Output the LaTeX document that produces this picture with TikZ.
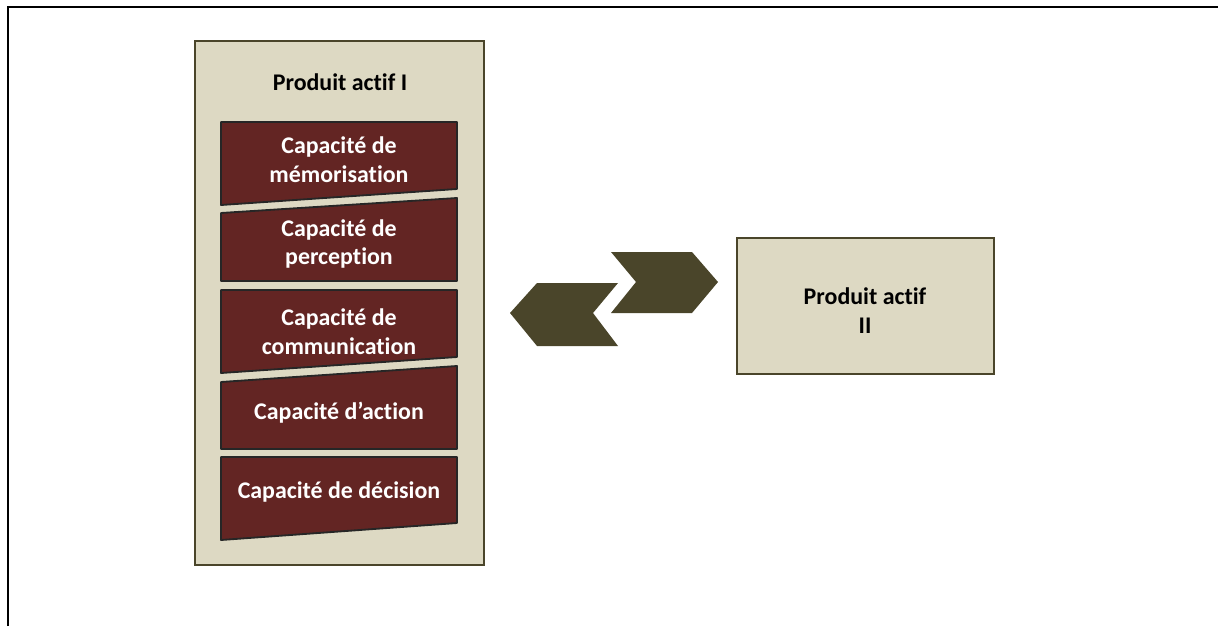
\documentclass[tikz,border=0pt]{standalone}
\usepackage{fontspec}
\setmainfont{Carlito}[RawFeature=-liga]
\usetikzlibrary{positioning}

\definecolor{tan}{HTML}{DDD9C3}
\definecolor{olive}{HTML}{4A452A}
\definecolor{wine}{HTML}{632523}

\tikzset{
  lbl/.style={font=\fontsize{17}{20.6}\selectfont\bfseries, align=center},
  capa/.style={lbl, text=white},
  cadre/.style={draw=olive, fill=tan, line width=1pt},
  bloc/.style={draw=black!85, fill=wine, line width=1.3pt, line join=round},
  fleche/.style={fill=olive},
}

\begin{document}
\begin{tikzpicture}[x=0.025cm, y=-0.025cm]
\useasboundingbox (0,0) rectangle (1218,626);

\draw[line width=1.4pt] (8,626) -- (8,7) -- (1218,7);

% produit actif I
\draw[cadre] (195,41) rectangle (484,565);
\node[lbl] (p1) at (340,82) {Produit actif I};

\draw[bloc] (221,122) -- (457,122) -- (457,189) -- (221,205) -- cycle;
\node[capa] (c1) at (339,160) {Capacité de\\mémorisation};

\draw[bloc] (221,213) -- (457,198) -- (457,281) -- (221,281) -- cycle;
\node[capa] (c2) at (339,244) {Capacité de\\perception};

\draw[bloc] (221,290) -- (457,290) -- (457,357) -- (221,373) -- cycle;
\node[capa] (c3) at (339,332) {Capacité de\\communication};

\draw[bloc] (221,382) -- (457,366) -- (457,449) -- (221,449) -- cycle;
\node[capa] (c4) at (339,413) {Capacité d’action};

\draw[bloc] (221,457) -- (457,457) -- (457,523) -- (221,540) -- cycle;
\node[capa] (c5) at (339,492) {Capacité de décision};

% echanges
\fill[fleche] (611,252) -- (692,252) -- (718,282) -- (692,313) -- (611,313) -- (636,282) -- cycle;
\fill[fleche] (510,313) -- (537,283) -- (618,283) -- (593,313) -- (618,346) -- (537,346) -- cycle;

% produit actif II
\draw[cadre] (737,238) rectangle (994,374);
\node[lbl] (p2) at (865,311) {Produit actif\\II};

\end{tikzpicture}
\end{document}
